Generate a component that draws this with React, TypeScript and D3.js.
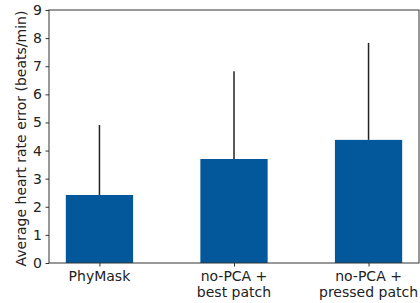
import React, { useEffect, useRef } from "react";
import * as d3 from "d3";

const categories = ["PhyMask", "no-PCA +\nbest patch", "no-PCA +\npressed patch"];
const means = [2.42, 3.7, 4.38];
const upperErr = [2.49, 3.12, 3.45];
const yTicks = [0, 1, 2, 3, 4, 5, 6, 7, 8, 9];

const W = 420;
const H = 303;
const m = { left: 49, right: 1, top: 10, bottom: 40 };
const FONT = "DejaVu Sans, sans-serif";
const FS = 14;

function App() {
  const ref = useRef<SVGSVGElement>(null);

  useEffect(() => {
    const svg = d3.select(ref.current);
    svg.selectAll("*").remove();

    const x = d3.scaleLinear().domain([-0.375, 2.375]).range([m.left, W - m.right]);
    const y = d3.scaleLinear().domain([0, 9]).range([H - m.bottom, m.top]);
    const bw = x(0.5) - x(0);

    const g = svg.append("g");

    // error bars (upper only, behind bars)
    g.selectAll("line.err")
      .data(means)
      .join("line")
      .attr("x1", (d, i) => x(i))
      .attr("x2", (d, i) => x(i))
      .attr("y1", (d) => y(d))
      .attr("y2", (d, i) => y(d + upperErr[i]))
      .attr("stroke", "#222")
      .attr("stroke-width", 1.5);

    g.selectAll("rect.bar")
      .data(means)
      .join("rect")
      .attr("x", (d, i) => x(i) - bw / 2)
      .attr("y", (d) => y(d))
      .attr("width", bw)
      .attr("height", (d) => y(0) - y(d))
      .attr("fill", "#02589b");

    // frame
    svg.append("rect")
      .attr("x", m.left)
      .attr("y", m.top)
      .attr("width", W - m.left - m.right)
      .attr("height", H - m.top - m.bottom)
      .attr("fill", "none")
      .attr("stroke", "#333")
      .attr("stroke-width", 1);

    const yAxis = svg.append("g")
      .attr("transform", `translate(${m.left},0)`)
      .call(d3.axisLeft(y).tickValues(yTicks).tickSize(3.5).tickPadding(3.5).tickFormat(d3.format("d")));
    yAxis.select(".domain").remove();
    yAxis.selectAll("line").attr("stroke", "#333");
    yAxis.selectAll("text").attr("font-family", FONT).attr("font-size", FS).attr("fill", "#222");

    const xAxis = svg.append("g")
      .attr("transform", `translate(0,${H - m.bottom})`)
      .call(d3.axisBottom(x).tickValues([0, 1, 2]).tickSize(3.5).tickFormat(() => ""));
    xAxis.select(".domain").remove();
    xAxis.selectAll("line").attr("stroke", "#333");

    svg.append("g")
      .selectAll("text")
      .data(categories)
      .join("text")
      .attr("x", (d, i) => x(i))
      .attr("y", H - m.bottom + 18)
      .attr("text-anchor", "middle")
      .attr("font-family", FONT)
      .attr("font-size", FS)
      .attr("fill", "#222")
      .each(function (d) {
        const t = d3.select(this);
        d.split("\n").forEach((line, k) => {
          t.append("tspan").attr("x", t.attr("x")).attr("dy", k === 0 ? 0 : 15.5).text(line);
        });
      });

    svg.append("text")
      .attr("transform", `translate(26,${(m.top + H - m.bottom) / 2 + 2}) rotate(-90)`)
      .attr("text-anchor", "middle")
      .attr("font-family", FONT)
      .attr("font-size", FS)
      .attr("fill", "#222")
      .text("Average heart rate error (beats/min)");
  }, []);

  return <svg ref={ref} width={W} height={H} style={{ position: "absolute", left: 0, top: 0 }} />;
}

export default App;
